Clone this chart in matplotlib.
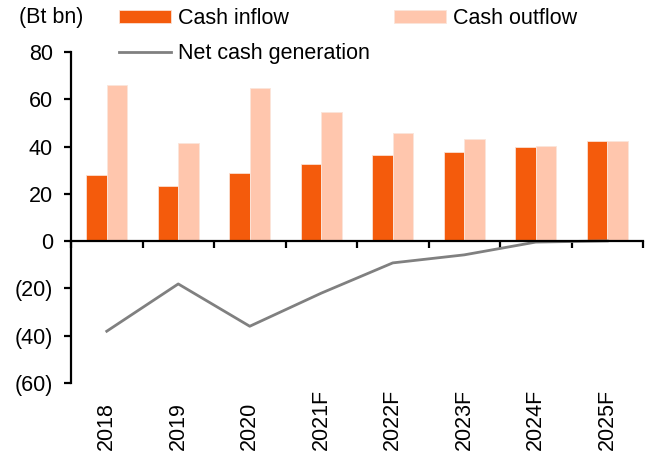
import matplotlib.pyplot as plt
import matplotlib.ticker as mticker
import matplotlib.transforms as mtrans
import numpy as np

plt.rcParams['font.family'] = ['Liberation Sans', 'DejaVu Sans']

# chart data
years = ["2018", "2019", "2020", "2021F", "2022F", "2023F", "2024F", "2025F"]
cash_inflow = [28.0, 23.4, 28.9, 32.7, 36.6, 37.5, 39.9, 42.4]
cash_outflow = [66.1, 41.5, 64.9, 54.7, 45.8, 43.3, 40.3, 42.3]
net_cash = [-38.1, -18.1, -36.0, -22.0, -9.2, -5.8, -0.4, 0.1]

FS = 15.5
x = np.arange(len(years))
w = 0.285

fig = plt.figure(figsize=(6.5, 4.54), dpi=100)
ax = fig.add_axes([71 / 650, 1 - 383 / 454, (643 - 71) / 650, (383 - 52) / 454])

b1 = ax.bar(x - w / 2, cash_inflow, w, color="#f45b0c", edgecolor="#fbe0d2", linewidth=0.6)
b2 = ax.bar(x + w / 2, cash_outflow, w, color="#ffc6ad", edgecolor="#fbe5da", linewidth=0.6)
ln, = ax.plot(x, net_cash, color="#808080", lw=2)

ax.set_xlim(-0.5, len(years) - 0.5)
ax.set_ylim(-60, 80)
ax.yaxis.set_major_locator(mticker.MultipleLocator(20))
ax.yaxis.set_major_formatter(mticker.FuncFormatter(
    lambda v, p: "(%d)" % abs(v) if v < 0 else "%d" % v))

# x axis drawn at zero, ticks between categories
ax.spines["bottom"].set_position(("data", 0))
ax.spines["top"].set_visible(False)
ax.spines["right"].set_visible(False)
for s in ["left", "bottom"]:
    ax.spines[s].set_linewidth(1.6)
ax.set_xticks(x)
ax.set_xticklabels([])
ax.set_xticks(np.arange(-0.5, len(years)), minor=True)
ax.tick_params(axis="x", which="major", length=0)
ax.tick_params(axis="x", which="minor", length=5, width=1.6, direction="out")
ax.tick_params(axis="y", length=5, width=1.6, labelsize=FS, pad=8)

# year labels rotated below the plot area, aligned at their end
trans = mtrans.blended_transform_factory(ax.transData, fig.transFigure)
for i, yr in enumerate(years):
    ax.text(i, 1 - 450 / 454, yr, rotation=90, ha="center", va="bottom",
            fontsize=FS, transform=trans)

fig.text(19 / 650, 1 - 17 / 454, "(Bt bn)", fontsize=FS, va="center", ha="left")

leg_kw = dict(frameon=False, fontsize=FS, handlelength=2.4, handleheight=0.55,
              labelspacing=0.64, handletextpad=0.35, borderaxespad=0, borderpad=0)
leg1 = fig.legend([b1, ln], ["Cash inflow", "Net cash generation"], loc="upper left",
                  bbox_to_anchor=(119 / 650, 1 - 8 / 454), **leg_kw)
leg2 = fig.legend([b2], ["Cash outflow"], loc="upper left",
                  bbox_to_anchor=(394 / 650, 1 - 8 / 454), **leg_kw)

fig.savefig("out.png", dpi=100)
